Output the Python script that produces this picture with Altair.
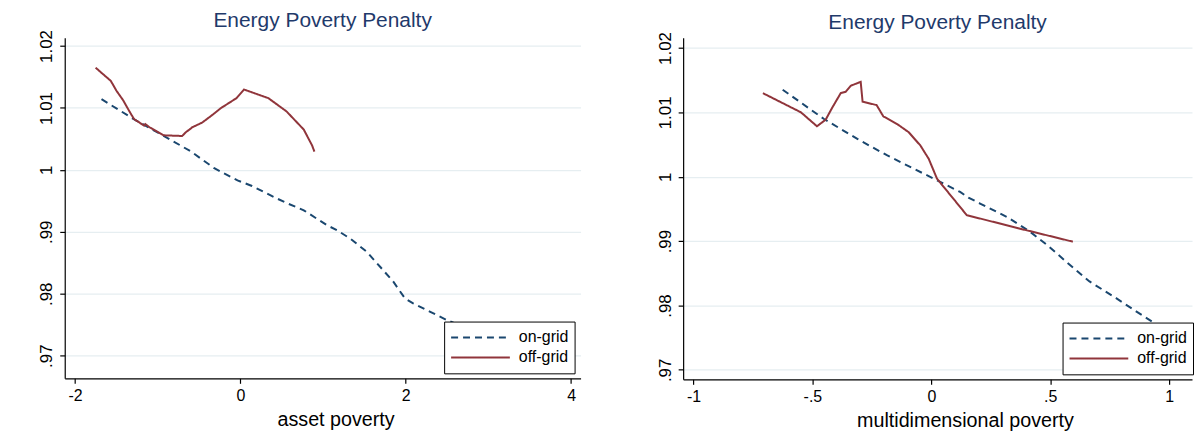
import altair as alt
import pandas as pd

FONT = "Liberation Sans"
NAVY = "#1a476f"
MAROON = "#90353b"
TITLE_COLOR = "#1f3a6b"
GRID = "#e6eef1"

# ---------------- Left panel: asset poverty ----------------
asset_on_x = [-1.680, -1.279, -0.918, -0.597, -0.316, -0.035, 0.140, 0.406, 0.550,
              0.767, 1.048, 1.168, 1.329, 1.529, 1.690, 1.850, 1.990, 2.090, 2.291,
              2.492, 2.750]
asset_on_y = [1.01141, 1.00810, 1.00542, 1.00296, 1.00027, 0.99830, 0.99740, 0.99561,
              0.99470, 0.99347, 0.99106, 0.99026, 0.98891, 0.98677, 0.98436, 0.98195,
              0.97926, 0.97846, 0.97712, 0.97579, 0.97440]

asset_off_x = [-1.752, -1.568, -1.499, -1.419, -1.347, -1.287, -1.219, -1.166, -1.150,
               -1.099, -0.930, -0.705, -0.657, -0.597, -0.585, -0.464, -0.336, -0.236,
               -0.047, 0.045, 0.338, 0.558, 0.767, 0.868, 0.895]
asset_off_y = [1.01650, 1.01437, 1.01277, 1.01125, 1.00955, 1.00820, 1.00762, 1.00714,
               1.00740, 1.00687, 1.00558, 1.00547, 1.00611, 1.00670, 1.00686, 1.00762,
               1.00890, 1.00997, 1.01158, 1.01297, 1.01158, 1.00944, 1.00650, 1.00392,
               1.00296]

# ---------------- Right panel: multidimensional poverty ----------------
multi_on_x = [-0.625, -0.451, -0.311, -0.185, 0.024, 0.121, 0.156, 0.205, 0.317, 0.410,
              0.490, 0.570, 0.665, 0.777, 0.861, 0.937, 1.020]
multi_on_y = [1.01351, 1.00897, 1.00587, 1.00330, 0.99944, 0.99764, 0.99676, 0.99583,
              0.99377, 0.99160, 0.98930, 0.98670, 0.98373, 0.98114, 0.97909, 0.97728,
              0.97550]

multi_off_x = [-0.708, -0.548, -0.481, -0.444, -0.416, -0.381, -0.360, -0.339, -0.304,
               -0.297, -0.289, -0.230, -0.202, -0.144, -0.095, -0.046, -0.011, 0.024,
               0.149, 0.386, 0.595]
multi_off_y = [1.01298, 1.01000, 1.00784, 1.00887, 1.01077, 1.01298, 1.01320, 1.01413,
               1.01464, 1.01474, 1.01165, 1.01113, 1.00938, 1.00819, 1.00691, 1.00485,
               1.00278, 0.99969, 0.99403, 0.99181, 0.98991]

y_ticks = [0.97, 0.98, 0.99, 1.0, 1.01, 1.02]
asset_ticks = [-2, 0, 2, 4]
multi_ticks = [-1, -0.5, 0, 0.5, 1]
series = ["on-grid", "off-grid"]


def frame(on_x, on_y, off_x, off_y):
    rows = []
    for i, (a, b) in enumerate(zip(on_x, on_y)):
        rows.append({"x": a, "y": b, "series": series[0], "order": i})
    for i, (a, b) in enumerate(zip(off_x, off_y)):
        rows.append({"x": a, "y": b, "series": series[1], "order": i})
    return pd.DataFrame(rows)


LABEL_EXPR = "replace(toString(datum.value), '0.', '.')"


def panel(df, xdom, ydom, xticks, xtitle, title_x, width, height, lx, ly):
    legend = alt.Legend(
        title=None, orient="none", legendX=lx, legendY=ly,
        fillColor="white", strokeColor="black", padding=6,
        symbolType="stroke", symbolSize=3481, symbolStrokeWidth=2,
        clipHeight=20, rowPadding=0, labelOffset=8,
        labelFont=FONT, labelFontSize=16, labelColor="black",
    )
    return alt.Chart(df).mark_line(strokeWidth=2, clip=True).encode(
        x=alt.X("x:Q", scale=alt.Scale(domain=xdom, nice=False, zero=False),
                axis=alt.Axis(values=xticks, grid=False, title=xtitle,
                              labelExpr=LABEL_EXPR, labelFlush=False, titleX=title_x,
                              tickSize=5, labelPadding=4, titlePadding=6)),
        y=alt.Y("y:Q", scale=alt.Scale(domain=ydom, nice=False, zero=False),
                axis=alt.Axis(values=y_ticks, grid=True, title=None,
                              labelExpr=LABEL_EXPR, labelAngle=270, labelFontSize=17,
                              labelFlush=False, tickSize=5, labelPadding=4)),
        color=alt.Color("series:N", scale=alt.Scale(domain=series, range=[NAVY, MAROON]),
                        legend=legend),
        strokeDash=alt.StrokeDash("series:N",
                                  scale=alt.Scale(domain=series, range=[[7, 5], [1, 0]]),
                                  legend=legend),
        order="order:Q",
    ).properties(
        width=width, height=height,
        title=alt.TitleParams("Energy Poverty Penalty", fontSize=21, font=FONT,
                              fontWeight="normal", color=TITLE_COLOR,
                              anchor="middle", offset=-1),
    )


left = panel(frame(asset_on_x, asset_on_y, asset_off_x, asset_off_y),
             [-2.125, 4.115], [0.96635, 1.02133], asset_ticks, "asset poverty", 272,
             518, 342, 381, 285)
right = panel(frame(multi_on_x, multi_on_y, multi_off_x, multi_off_y),
              [-1.0435, 1.096], [0.96853, 1.02159], multi_ticks, "multidimensional poverty",
              283, 511, 343, 381, 286)

chart = alt.hconcat(left, right, spacing=75).resolve_scale(
    color="independent", strokeDash="independent"
).resolve_legend(
    color="independent", strokeDash="independent"
).properties(
    padding={"left": 37, "top": 8, "right": 0, "bottom": 0}
).configure(font=FONT).configure_view(strokeWidth=0).configure_axis(
    domainColor="black", tickColor="black", labelColor="black", titleColor="black",
    labelFont=FONT, titleFont=FONT, labelFontSize=16, titleFontSize=19.8,
    titleFontWeight="normal", gridColor=GRID, gridWidth=1.3, domainWidth=1.2,
    tickWidth=1.2,
)

chart.save("out.html", embed_options={"renderer": "svg", "actions": False})
